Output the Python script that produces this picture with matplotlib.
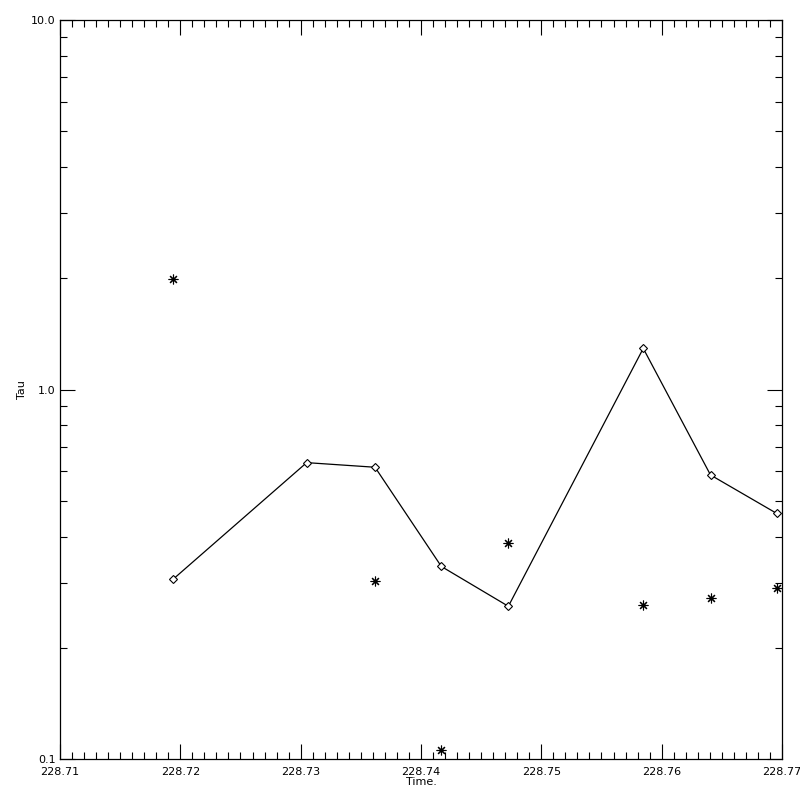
import matplotlib
matplotlib.use('Agg')
import matplotlib.pyplot as plt
from matplotlib.ticker import FixedLocator, LogLocator, NullFormatter, FuncFormatter

# diamonds joined by a line
line_time = [228.71942, 228.73050, 228.73618, 228.74169, 228.74726, 228.75847, 228.76406, 228.76956]
line_tau = [0.307, 0.634, 0.616, 0.332, 0.259, 1.292, 0.587, 0.462]

# asterisks
star_time = [228.71942, 228.73618, 228.74169, 228.74726, 228.75847, 228.76406, 228.76956]
star_tau = [1.99, 0.303, 0.106, 0.384, 0.261, 0.273, 0.290]

xticks = [228.71, 228.72, 228.73, 228.74, 228.75, 228.76, 228.77]

fig = plt.figure(figsize=(8, 8), dpi=100)
ax = fig.add_axes([0.075, 0.05125, 0.9025, 0.92375])

ax.plot(line_time, line_tau, color='black', lw=0.9, marker='D', ms=4,
        mfc='white', mec='black', mew=0.8)
ax.plot(star_time, star_tau, ls='none', marker=(8, 2, 0), ms=7,
        color='black', mew=0.8)

ax.set_yscale('log')
ax.set_xlim(228.71, 228.77)
ax.set_ylim(0.1, 10.0)

ax.xaxis.set_major_locator(FixedLocator(xticks))
ax.xaxis.set_minor_locator(FixedLocator([228.71 + i * 0.001 for i in range(61)]))
ax.xaxis.set_major_formatter(FuncFormatter(lambda v, p: '%.2f' % v))
ax.yaxis.set_major_locator(FixedLocator([0.1, 1.0, 10.0]))
ax.yaxis.set_minor_locator(LogLocator(base=10, subs=range(2, 10)))
ax.yaxis.set_major_formatter(FuncFormatter(lambda v, p: '%.1f' % v))
ax.yaxis.set_minor_formatter(NullFormatter())

ax.tick_params(which='both', direction='in', top=True, right=True,
               width=0.8, labelsize=8)
ax.tick_params(which='major', length=11)
ax.tick_params(which='minor', length=5)
ax.tick_params(axis='x', pad=6)
ax.tick_params(axis='y', pad=3)

for s in ax.spines.values():
    s.set_linewidth(0.9)

ax.set_xlabel('Time.', fontsize=8, labelpad=0)
ax.set_ylabel('Tau', fontsize=8, labelpad=3)

fig.savefig('out.png', dpi=100, facecolor='white')
